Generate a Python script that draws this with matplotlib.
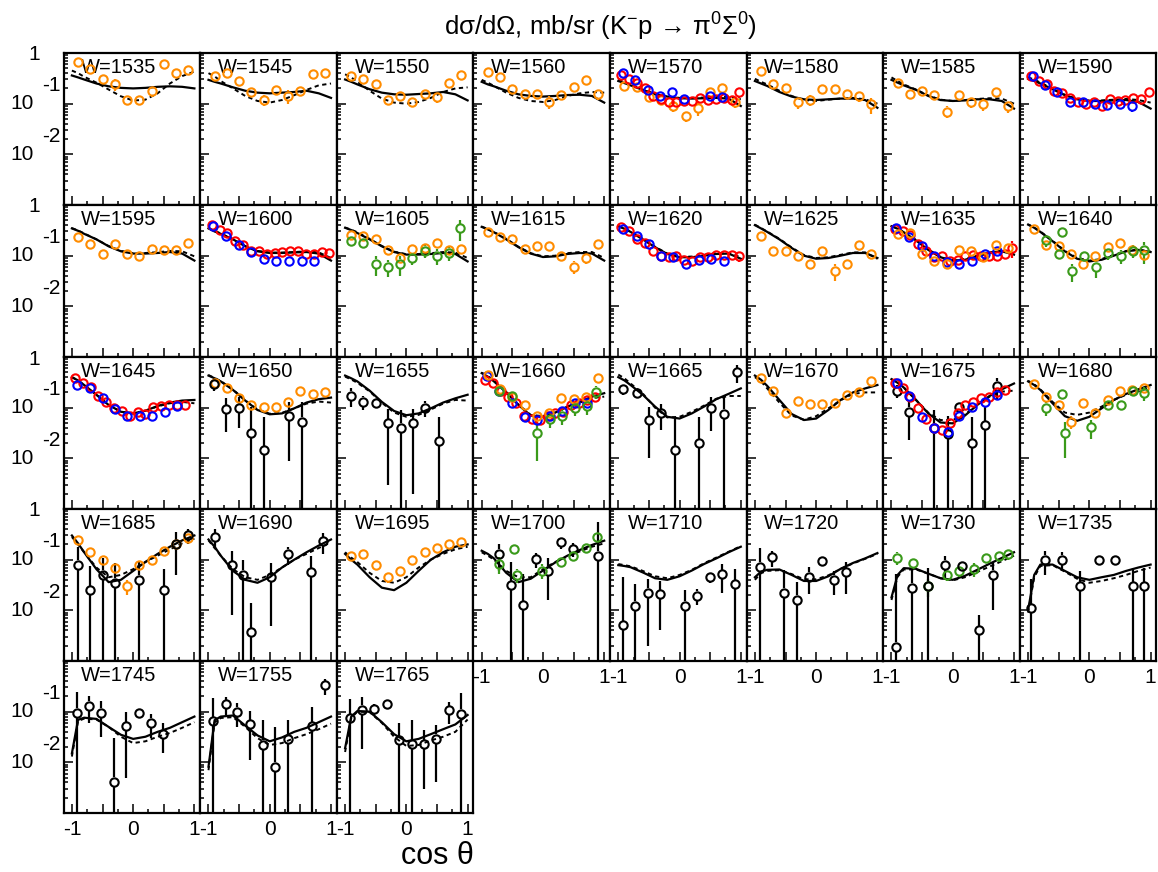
import numpy as np
import matplotlib
matplotlib.use("Agg")
import matplotlib.pyplot as plt
from matplotlib.ticker import FixedLocator, NullFormatter, LogLocator

plt.rcParams['font.family'] = ['Liberation Sans', 'DejaVu Sans']
plt.rcParams['mathtext.fontset'] = 'custom'
plt.rcParams['mathtext.rm'] = 'Liberation Sans'
plt.rcParams['mathtext.default'] = 'regular'

# curve grid (cos theta) and common data grids
XC = [-1.0, -0.9, -0.8, -0.6, -0.4, -0.2, 0.0, 0.2, 0.4, 0.6, 0.8, 1.0]
X10 = [-0.9, -0.7, -0.5, -0.3, -0.1, 0.1, 0.3, 0.5, 0.7, 0.9]
XR = [-0.95, -0.82, -0.69, -0.57, -0.44, -0.31, -0.18, -0.05,
      0.08, 0.20, 0.33, 0.46, 0.59, 0.72, 0.85, 0.97]

COLORS = {'o': '#ff8c00', 'r': '#ff0000', 'b': '#0000ff', 'g': '#3a9a1a', 'k': 'black'}

# ---- row 1 ----
c1535 = [0.36, 0.33, 0.30, 0.25, 0.22, 0.205, 0.20, 0.205, 0.215, 0.22, 0.215, 0.20]
d1535 = [0.45, 0.40, 0.34, 0.26, 0.19, 0.14, 0.115, 0.12, 0.16, 0.25, 0.35, 0.43]
p1535 = [('o', X10, [0.65, 0.48, 0.31, 0.24, 0.118, 0.118, 0.18, 0.60, 0.40, 0.46],
          [0.07, 0.10, 0.06, 0.06, 0.018, 0.018, 0.045, 0.04, 0.08, 0.07])]

c1545 = [0.295, 0.27, 0.25, 0.21, 0.18, 0.165, 0.16, 0.165, 0.17, 0.18, 0.16, 0.13]
d1545 = [0.40, 0.345, 0.28, 0.20, 0.142, 0.113, 0.105, 0.118, 0.147, 0.187, 0.23, 0.25]
p1545 = [('o', X10, [0.355, 0.40, 0.28, 0.17, 0.118, 0.187, 0.142, 0.18, 0.38, 0.41],
          [0.03, 0.04, 0.04, 0.035, 0.03, 0.03, 0.045, 0.03, 0.04, 0.04])]

c1550 = [0.30, 0.27, 0.24, 0.193, 0.165, 0.153, 0.15, 0.155, 0.16, 0.17, 0.153, 0.116]
d1550 = [0.38, 0.33, 0.27, 0.18, 0.126, 0.105, 0.10, 0.108, 0.13, 0.17, 0.20, 0.21]
p1550 = [('o', X10, [0.355, 0.31, 0.24, 0.118, 0.142, 0.108, 0.153, 0.138, 0.26, 0.37],
          [0.03, 0.03, 0.025, 0.02, 0.03, 0.02, 0.03, 0.035, 0.025, 0.03])]

c1560 = [0.27, 0.24, 0.22, 0.18, 0.153, 0.142, 0.138, 0.142, 0.148, 0.15, 0.142, 0.105]
d1560 = [0.295, 0.26, 0.224, 0.165, 0.13, 0.113, 0.108, 0.118, 0.142, 0.16, 0.17, 0.165]
p1560 = [('o', X10, [0.43, 0.33, 0.193, 0.153, 0.153, 0.109, 0.15, 0.21, 0.29, 0.153],
          [0.03, 0.03, 0.03, 0.025, 0.03, 0.03, 0.03, 0.03, 0.03, 0.035])]

c1570 = [0.28, 0.255, 0.23, 0.187, 0.153, 0.138, 0.128, 0.126, 0.128, 0.13, 0.126, 0.09]
d1570 = [0.30, 0.27, 0.24, 0.19, 0.155, 0.14, 0.13, 0.13, 0.132, 0.136, 0.138, 0.122]
p1570 = [('o', X10, [0.223, 0.216, 0.134, 0.118, 0.09, 0.058, 0.081, 0.168, 0.206, 0.109],
          [0.03, 0.03, 0.025, 0.02, 0.02, 0.015, 0.025, 0.03, 0.03, 0.025]),
         ('r', XR, [0.36, 0.30, 0.26, 0.20, 0.14, 0.125, 0.11, 0.11, 0.115, 0.115, 0.13, 0.118,
                    0.125, 0.13, 0.12, 0.17],
          [0.03, 0.02, 0.02, 0.015, 0.01, 0.01, 0.01, 0.01, 0.01, 0.01, 0.01, 0.01, 0.01,
           0.015, 0.015, 0.04]),
         ('b', [-0.93, -0.73, -0.52, -0.32, -0.12, 0.08, 0.49, 0.69],
          [0.40, 0.29, 0.19, 0.142, 0.168, 0.122, 0.142, 0.137],
          [0.03, 0.02, 0.015, 0.01, 0.012, 0.01, 0.012, 0.02])]

c1580 = [0.28, 0.25, 0.224, 0.17, 0.138, 0.122, 0.118, 0.122, 0.126, 0.126, 0.118, 0.083]
d1580 = [0.31, 0.27, 0.24, 0.18, 0.142, 0.118, 0.113, 0.12, 0.126, 0.13, 0.122, 0.10]
p1580 = [('o', X10, [0.45, 0.24, 0.20, 0.108, 0.118, 0.193, 0.193, 0.153, 0.142, 0.097],
          [0.03, 0.04, 0.035, 0.03, 0.03, 0.035, 0.035, 0.03, 0.035, 0.035])]

c1585 = [0.295, 0.26, 0.23, 0.187, 0.142, 0.118, 0.113, 0.116, 0.122, 0.122, 0.113, 0.08]
d1585 = [0.33, 0.28, 0.24, 0.19, 0.145, 0.12, 0.113, 0.118, 0.124, 0.128, 0.126, 0.10]
p1585 = [('o', X10, [0.26, 0.153, 0.18, 0.147, 0.07, 0.147, 0.108, 0.097, 0.17, 0.09],
          [0.02, 0.02, 0.025, 0.025, 0.018, 0.025, 0.025, 0.025, 0.03, 0.025])]

c1590 = [0.31, 0.28, 0.25, 0.193, 0.147, 0.122, 0.113, 0.113, 0.116, 0.118, 0.108, 0.08]
d1590 = [0.33, 0.30, 0.26, 0.20, 0.15, 0.124, 0.115, 0.116, 0.12, 0.124, 0.118, 0.105]
p1590 = [('r', XR, [0.35, 0.284, 0.245, 0.18, 0.16, 0.128, 0.106, 0.097, 0.11, 0.091, 0.122,
                    0.115, 0.118, 0.128, 0.124, 0.172],
          [0.02, 0.015, 0.015, 0.01, 0.01, 0.008, 0.008, 0.008, 0.008, 0.008, 0.008, 0.008,
           0.008, 0.01, 0.01, 0.03]),
         ('b', [-0.92, -0.72, -0.52, -0.32, -0.11, 0.09, 0.29, 0.50, 0.70],
          [0.35, 0.235, 0.172, 0.11, 0.106, 0.097, 0.094, 0.097, 0.09],
          [0.02, 0.015, 0.012, 0.008, 0.008, 0.008, 0.008, 0.008, 0.02])]

# ---- row 2 ----
c1595 = [0.345, 0.31, 0.27, 0.21, 0.153, 0.122, 0.11, 0.11, 0.113, 0.118, 0.11, 0.08]
d1595 = [0.35, 0.315, 0.275, 0.21, 0.155, 0.124, 0.112, 0.113, 0.117, 0.124, 0.122, 0.097]
p1595 = [('o', X10, [0.23, 0.17, 0.108, 0.17, 0.11, 0.097, 0.138, 0.128, 0.128, 0.18],
          [0.025, 0.025, 0.02, 0.025, 0.02, 0.02, 0.02, 0.02, 0.025, 0.03])]

c1600 = [0.345, 0.30, 0.27, 0.21, 0.153, 0.122, 0.113, 0.113, 0.116, 0.118, 0.11, 0.08]
d1600 = [0.35, 0.31, 0.275, 0.21, 0.155, 0.124, 0.115, 0.115, 0.118, 0.122, 0.116, 0.09]
p1600 = [('r', XR, [0.40, 0.32, 0.28, 0.193, 0.165, 0.126, 0.122, 0.11, 0.113, 0.118, 0.122,
                    0.126, 0.11, 0.11, 0.118, 0.113],
          [0.02, 0.015, 0.015, 0.01, 0.01, 0.008, 0.008, 0.008, 0.008, 0.008, 0.008, 0.008,
           0.008, 0.01, 0.01, 0.02]),
         ('b', [-0.92, -0.71, -0.50, -0.30, -0.10, 0.10, 0.31, 0.52, 0.72],
          [0.38, 0.25, 0.165, 0.118, 0.087, 0.077, 0.077, 0.08, 0.077],
          [0.02, 0.015, 0.012, 0.01, 0.008, 0.008, 0.008, 0.008, 0.012])]

c1605 = [0.355, 0.32, 0.28, 0.21, 0.153, 0.118, 0.105, 0.105, 0.108, 0.113, 0.108, 0.077]
d1605 = [0.36, 0.325, 0.29, 0.215, 0.155, 0.12, 0.107, 0.108, 0.112, 0.118, 0.115, 0.09]
p1605 = [('o', X10, [0.26, 0.25, 0.215, 0.13, 0.09, 0.138, 0.142, 0.18, 0.13, 0.138],
          [0.025, 0.025, 0.025, 0.02, 0.015, 0.02, 0.02, 0.025, 0.02, 0.025]),
         ('g', [-0.9, -0.7, -0.5, -0.3, -0.1, 0.1, 0.3, 0.5, 0.7, 0.87],
          [0.193, 0.18, 0.07, 0.06, 0.07, 0.09, 0.126, 0.10, 0.113, 0.345],
          [0.04, 0.035, 0.03, 0.022, 0.03, 0.025, 0.035, 0.035, 0.035, 0.15])]

c1615 = [0.37, 0.33, 0.29, 0.21, 0.147, 0.11, 0.094, 0.097, 0.108, 0.113, 0.11, 0.08]
d1615 = [0.375, 0.335, 0.295, 0.215, 0.15, 0.112, 0.097, 0.10, 0.112, 0.118, 0.118, 0.09]
p1615 = [('o', X10, [0.295, 0.23, 0.215, 0.138, 0.153, 0.153, 0.097, 0.061, 0.09, 0.17],
          [0.02, 0.02, 0.02, 0.02, 0.02, 0.02, 0.015, 0.018, 0.02, 0.02])]

c1620 = [0.38, 0.34, 0.295, 0.21, 0.147, 0.108, 0.093, 0.093, 0.10, 0.108, 0.11, 0.087]
d1620 = [0.385, 0.345, 0.30, 0.215, 0.15, 0.11, 0.095, 0.096, 0.104, 0.112, 0.114, 0.093]
p1620 = [('r', XR, [0.365, 0.31, 0.217, 0.18, 0.122, 0.10, 0.093, 0.10, 0.083, 0.08, 0.093,
                    0.094, 0.105, 0.105, 0.105, 0.10],
          [0.02, 0.015, 0.012, 0.01, 0.008, 0.007, 0.007, 0.007, 0.007, 0.007, 0.007, 0.007,
           0.007, 0.008, 0.008, 0.025]),
         ('b', [-0.92, -0.70, -0.50, -0.30, -0.10, 0.11, 0.31, 0.52, 0.72],
          [0.34, 0.24, 0.17, 0.097, 0.093, 0.07, 0.083, 0.087, 0.08],
          [0.02, 0.015, 0.012, 0.008, 0.008, 0.007, 0.007, 0.007, 0.008])]

c1625 = [0.40, 0.345, 0.295, 0.21, 0.142, 0.10, 0.087, 0.09, 0.10, 0.113, 0.113, 0.09]
d1625 = [0.41, 0.35, 0.30, 0.215, 0.145, 0.103, 0.09, 0.093, 0.104, 0.116, 0.116, 0.087]
p1625 = [('o', X10, [0.25, 0.122, 0.126, 0.10, 0.07, 0.122, 0.05, 0.07, 0.16, 0.11],
          [0.03, 0.015, 0.015, 0.012, 0.015, 0.015, 0.018, 0.015, 0.02, 0.012])]

c1635 = [0.38, 0.34, 0.29, 0.20, 0.13, 0.093, 0.08, 0.083, 0.097, 0.113, 0.122, 0.105]
d1635 = [0.385, 0.345, 0.295, 0.205, 0.133, 0.095, 0.082, 0.086, 0.10, 0.116, 0.125, 0.11]
p1635 = [('r', XR, [0.33, 0.30, 0.26, 0.17, 0.122, 0.093, 0.097, 0.077, 0.083, 0.097, 0.105,
                    0.097, 0.097, 0.097, 0.108, 0.142],
          [0.02, 0.015, 0.015, 0.01, 0.008, 0.007, 0.007, 0.007, 0.007, 0.007, 0.007, 0.007,
           0.007, 0.008, 0.01, 0.05]),
         ('b', [-0.92, -0.71, -0.50, -0.30, -0.09, 0.11, 0.32, 0.52, 0.72],
          [0.355, 0.23, 0.153, 0.097, 0.075, 0.07, 0.077, 0.108, 0.122],
          [0.02, 0.015, 0.012, 0.008, 0.007, 0.007, 0.007, 0.008, 0.01]),
         ('o', X10, [0.27, 0.28, 0.108, 0.077, 0.07, 0.13, 0.122, 0.093, 0.165, 0.142],
          [0.02, 0.03, 0.02, 0.015, 0.015, 0.02, 0.02, 0.015, 0.02, 0.025])]

c1640 = [0.41, 0.355, 0.295, 0.193, 0.122, 0.087, 0.077, 0.083, 0.10, 0.122, 0.13, 0.118]
d1640 = [0.415, 0.36, 0.30, 0.197, 0.125, 0.09, 0.08, 0.086, 0.103, 0.124, 0.132, 0.12]
p1640 = [('o', X10, [0.33, 0.16, 0.153, 0.108, 0.07, 0.10, 0.147, 0.18, 0.13, 0.105],
          [0.025, 0.02, 0.02, 0.015, 0.015, 0.015, 0.02, 0.02, 0.02, 0.025]),
         ('g', [-0.71, -0.50, -0.44, -0.29, -0.09, 0.11, 0.31, 0.52, 0.72, 0.90],
          [0.20, 0.11, 0.295, 0.05, 0.10, 0.061, 0.113, 0.10, 0.126, 0.13],
          [0.05, 0.025, 0.05, 0.02, 0.02, 0.025, 0.03, 0.03, 0.035, 0.06])]

# ---- row 3 ----
c1645 = [0.40, 0.345, 0.28, 0.18, 0.113, 0.083, 0.077, 0.087, 0.108, 0.126, 0.138, 0.142]
d1645 = [0.40, 0.345, 0.28, 0.18, 0.113, 0.083, 0.077, 0.087, 0.106, 0.122, 0.13, 0.122]
p1645 = [('r', XR[:15], [0.38, 0.30, 0.26, 0.17, 0.13, 0.097, 0.087, 0.07, 0.083, 0.074, 0.105,
                         0.108, 0.113, 0.113, 0.113],
          [0.02, 0.015, 0.015, 0.01, 0.008, 0.007, 0.007, 0.006, 0.006, 0.006, 0.007, 0.007,
           0.007, 0.008, 0.008]),
         ('b', [-0.92, -0.70, -0.50, -0.30, -0.10, 0.11, 0.31, 0.52, 0.72],
          [0.28, 0.24, 0.153, 0.093, 0.07, 0.068, 0.069, 0.083, 0.108],
          [0.02, 0.015, 0.01, 0.007, 0.006, 0.006, 0.006, 0.007, 0.008])]

c1650 = [0.43, 0.38, 0.33, 0.224, 0.138, 0.09, 0.074, 0.077, 0.097, 0.126, 0.147, 0.158]
d1650 = [0.44, 0.385, 0.335, 0.228, 0.14, 0.092, 0.076, 0.079, 0.097, 0.12, 0.132, 0.126]
p1650 = [('o', X10, [0.31, 0.25, 0.153, 0.113, 0.105, 0.105, 0.13, 0.215, 0.187, 0.20],
          [0.03, 0.025, 0.02, 0.02, 0.02, 0.02, 0.02, 0.025, 0.025, 0.025]),
         ('k', [-0.91, -0.71, -0.50, -0.30, -0.10, 0.31, 0.52],
          [0.295, 0.093, 0.10, 0.031, 0.0145, 0.069, 0.053],
          [0.08, 0.06, 0.06, 0.074, 0.05, 0.06, 0.077])]

c1655 = [0.43, 0.38, 0.33, 0.217, 0.13, 0.086, 0.071, 0.077, 0.097, 0.126, 0.153, 0.18]
d1655 = [0.41, 0.36, 0.31, 0.21, 0.125, 0.08, 0.066, 0.072, 0.092, 0.12, 0.142, 0.138]
p1655 = [('k', [-0.90, -0.71, -0.50, -0.30, -0.09, 0.11, 0.31, 0.53],
          [0.173, 0.13, 0.122, 0.049, 0.04, 0.049, 0.10, 0.0216],
          [0.07, 0.04, 0.02, 0.046, 0.05, 0.047, 0.035, 0.045])]

c1660 = [0.48, 0.41, 0.33, 0.20, 0.113, 0.07, 0.066, 0.08, 0.105, 0.13, 0.165, 0.193]
d1660 = [0.49, 0.42, 0.34, 0.205, 0.115, 0.072, 0.068, 0.08, 0.103, 0.126, 0.155, 0.165]
p1660 = [('r', XR[:15], [0.355, 0.31, 0.217, 0.165, 0.122, 0.07, 0.061, 0.057, 0.07, 0.077,
                         0.083, 0.113, 0.122, 0.142, 0.165],
          [0.02, 0.015, 0.012, 0.01, 0.008, 0.006, 0.006, 0.006, 0.006, 0.006, 0.006, 0.008,
           0.008, 0.01, 0.01]),
         ('b', [-0.91, -0.71, -0.50, -0.29, -0.09, 0.11, 0.31, 0.52, 0.72],
          [0.43, 0.21, 0.126, 0.066, 0.057, 0.07, 0.087, 0.122, 0.122],
          [0.03, 0.015, 0.01, 0.006, 0.006, 0.006, 0.008, 0.01, 0.015]),
         ('o', X10, [0.45, 0.23, 0.165, 0.113, 0.07, 0.08, 0.153, 0.147, 0.165, 0.38],
          [0.03, 0.025, 0.02, 0.02, 0.012, 0.015, 0.02, 0.02, 0.02, 0.04]),
         ('g', [-0.71, -0.50, -0.09, 0.11, 0.31, 0.52, 0.72, 0.87],
          [0.217, 0.17, 0.031, 0.061, 0.07, 0.097, 0.108, 0.207],
          [0.03, 0.03, 0.022, 0.022, 0.025, 0.03, 0.035, 0.06])]

c1665 = [0.40, 0.345, 0.28, 0.18, 0.105, 0.066, 0.061, 0.077, 0.105, 0.147, 0.187, 0.24]
d1665 = [0.45, 0.38, 0.30, 0.19, 0.10, 0.064, 0.066, 0.083, 0.11, 0.15, 0.17, 0.17]
p1665 = [('k', [-0.92, -0.70, -0.50, -0.30, -0.08, 0.32, 0.52, 0.72, 0.94],
          [0.235, 0.193, 0.057, 0.077, 0.0145, 0.02, 0.10, 0.075, 0.50],
          [0.06, 0.04, 0.047, 0.04, 0.05, 0.045, 0.065, 0.09, 0.20])]

c1670 = [0.43, 0.355, 0.27, 0.142, 0.075, 0.057, 0.061, 0.09, 0.142, 0.20, 0.24, 0.28]
d1670 = [0.40, 0.33, 0.24, 0.126, 0.07, 0.058, 0.068, 0.097, 0.14, 0.187, 0.20, 0.20]
p1670 = [('o', X10, [0.38, 0.217, 0.08, 0.138, 0.118, 0.118, 0.122, 0.18, 0.207, 0.33],
          [0.03, 0.025, 0.015, 0.025, 0.02, 0.02, 0.02, 0.02, 0.02, 0.03])]

c1675 = [0.365, 0.31, 0.25, 0.142, 0.077, 0.051, 0.049, 0.07, 0.113, 0.17, 0.23, 0.30]
d1675 = [0.365, 0.31, 0.25, 0.142, 0.08, 0.057, 0.057, 0.075, 0.113, 0.165, 0.207, 0.217]
p1675 = [('k', [-0.91, -0.71, -0.30, -0.08, 0.11, 0.32, 0.53, 0.72],
          [0.217, 0.083, 0.04, 0.03, 0.105, 0.02, 0.045, 0.27],
          [0.06, 0.06, 0.05, 0.04, 0.02, 0.045, 0.06, 0.12]),
         ('r', XR[:15], [0.31, 0.24, 0.165, 0.10, 0.059, 0.039, 0.037, 0.049, 0.077, 0.113,
                         0.13, 0.153, 0.165, 0.20, 0.224],
          [0.02, 0.015, 0.01, 0.008, 0.005, 0.004, 0.004, 0.004, 0.006, 0.008, 0.008, 0.01,
           0.01, 0.012, 0.012]),
         ('b', [-0.91, -0.71, -0.50, -0.30, -0.08, 0.11, 0.32, 0.52, 0.72],
          [0.30, 0.17, 0.066, 0.039, 0.033, 0.07, 0.105, 0.13, 0.18],
          [0.02, 0.012, 0.006, 0.004, 0.004, 0.006, 0.008, 0.01, 0.012])]

c1680 = [0.33, 0.28, 0.224, 0.122, 0.068, 0.055, 0.066, 0.097, 0.142, 0.187, 0.23, 0.28]
d1680 = [0.34, 0.29, 0.23, 0.13, 0.08, 0.072, 0.08, 0.105, 0.142, 0.18, 0.21, 0.25]
p1680 = [('o', X10, [0.295, 0.165, 0.113, 0.053, 0.122, 0.08, 0.142, 0.217, 0.224, 0.25],
          [0.025, 0.025, 0.02, 0.015, 0.02, 0.015, 0.02, 0.025, 0.025, 0.025]),
         ('g', [-0.71, -0.44, -0.40, 0.02, 0.31, 0.52, 0.72, 0.90],
          [0.10, 0.187, 0.031, 0.041, 0.113, 0.113, 0.217, 0.193],
          [0.03, 0.04, 0.021, 0.017, 0.025, 0.025, 0.04, 0.06])]

# ---- row 4 ----
c1685 = [0.30, 0.21, 0.14, 0.065, 0.036, 0.04, 0.06, 0.09, 0.13, 0.18, 0.24, 0.30]
d1685 = [0.28, 0.20, 0.14, 0.07, 0.045, 0.05, 0.065, 0.09, 0.12, 0.16, 0.21, 0.26]
p1685 = [('o', X10, [0.24, 0.14, 0.10, 0.07, 0.03, 0.08, 0.10, 0.15, 0.20, 0.27],
          [0.02, 0.02, 0.015, 0.012, 0.01, 0.015, 0.015, 0.02, 0.02, 0.03]),
         ('k', [-0.9, -0.7, -0.5, -0.3, 0.1, 0.5, 0.7, 0.9],
          [0.08, 0.025, 0.05, 0.035, 0.04, 0.025, 0.2, 0.3],
          [0.1, 0.05, 0.06, 0.05, 0.05, 0.04, 0.15, 0.1])]

c1690 = [0.25, 0.18, 0.12, 0.06, 0.04, 0.035, 0.045, 0.07, 0.10, 0.14, 0.19, 0.25]
d1690 = [0.24, 0.17, 0.12, 0.065, 0.045, 0.04, 0.05, 0.07, 0.10, 0.13, 0.17, 0.22]
p1690 = [('k', [-0.9, -0.62, -0.43, -0.3, 0.02, 0.3, 0.67, 0.87],
          [0.28, 0.078, 0.05, 0.0037, 0.045, 0.13, 0.057, 0.23],
          [0.12, 0.07, 0.05, 0.01, 0.04, 0.05, 0.06, 0.1])]

c1695 = [0.13, 0.10, 0.08, 0.045, 0.028, 0.025, 0.035, 0.06, 0.10, 0.14, 0.18, 0.20]
d1695 = [0.14, 0.11, 0.09, 0.055, 0.038, 0.035, 0.045, 0.07, 0.10, 0.13, 0.16, 0.18]
p1695 = [('o', X10, [0.12, 0.13, 0.08, 0.045, 0.06, 0.10, 0.14, 0.17, 0.20, 0.22],
          [0.015, 0.015, 0.012, 0.01, 0.01, 0.015, 0.015, 0.02, 0.02, 0.02])]

c1700 = [0.15, 0.13, 0.106, 0.055, 0.036, 0.042, 0.061, 0.088, 0.12, 0.155, 0.195, 0.237]
d1700 = [0.14, 0.12, 0.10, 0.06, 0.045, 0.045, 0.065, 0.09, 0.115, 0.145, 0.18, 0.21]
p1700 = [('k', [-0.72, -0.52, -0.32, -0.11, 0.09, 0.30, 0.49, 0.90],
          [0.13, 0.031, 0.0127, 0.103, 0.061, 0.226, 0.162, 0.12],
          [0.07, 0.06, 0.04, 0.035, 0.045, 0.06, 0.05, 0.44]),
         ('g', [-0.72, -0.47, -0.42, -0.01, 0.30, 0.49, 0.70, 0.88],
          [0.082, 0.162, 0.05, 0.061, 0.091, 0.12, 0.167, 0.276],
          [0.03, 0.03, 0.015, 0.02, 0.02, 0.02, 0.025, 0.05])]

c1710 = [0.078, 0.075, 0.071, 0.056, 0.043, 0.04, 0.047, 0.061, 0.082, 0.106, 0.14, 0.18]
d1710 = [0.082, 0.078, 0.074, 0.06, 0.047, 0.043, 0.05, 0.063, 0.085, 0.11, 0.143, 0.185]
p1710 = [('k', [-0.92, -0.72, -0.52, -0.32, 0.09, 0.29, 0.49, 0.70, 0.90],
          [0.0051, 0.0124, 0.022, 0.021, 0.0124, 0.0195, 0.045, 0.052, 0.033],
          [0.04, 0.02, 0.02, 0.017, 0.0124, 0.007, 0.01, 0.03, 0.033])]

c1720 = [0.045, 0.058, 0.063, 0.064, 0.05, 0.038, 0.038, 0.047, 0.066, 0.086, 0.106, 0.135]
d1720 = [0.04, 0.054, 0.06, 0.062, 0.052, 0.041, 0.041, 0.049, 0.066, 0.084, 0.104, 0.13]
p1720 = [('k', [-0.92, -0.72, -0.52, -0.32, -0.11, 0.09, 0.29, 0.49],
          [0.073, 0.111, 0.022, 0.016, 0.046, 0.095, 0.04, 0.056],
          [0.1, 0.04, 0.04, 0.02, 0.025, 0.015, 0.02, 0.035])]

c1730 = [0.018, 0.05, 0.068, 0.066, 0.053, 0.043, 0.04, 0.048, 0.063, 0.083, 0.108, 0.14]
d1730 = [0.016, 0.046, 0.064, 0.064, 0.053, 0.043, 0.039, 0.045, 0.057, 0.073, 0.093, 0.12]
p1730 = [('g', [-0.91, -0.65, -0.40, -0.10, 0.10, 0.35, 0.55, 0.75, 0.90],
          [0.11, 0.085, 0.03, 0.05, 0.06, 0.065, 0.11, 0.12, 0.13],
          [0.03, 0.02, 0.012, 0.012, 0.015, 0.02, 0.02, 0.03, 0.03]),
         ('k', [-0.92, -0.67, -0.40, -0.12, 0.15, 0.43, 0.65],
          [0.0019, 0.028, 0.03, 0.08, 0.075, 0.004, 0.05],
          [0.05, 0.04, 0.04, 0.04, 0.015, 0.004, 0.04])]

c1735 = [0.01, 0.05, 0.08, 0.08, 0.06, 0.045, 0.04, 0.045, 0.05, 0.06, 0.07, 0.08]
d1735 = [0.009, 0.045, 0.075, 0.078, 0.058, 0.042, 0.035, 0.038, 0.043, 0.05, 0.06, 0.07]
p1735 = [('k', [-0.95, -0.72, -0.45, -0.15, 0.15, 0.42, 0.72, 0.90],
          [0.011, 0.1, 0.1, 0.03, 0.1, 0.1, 0.03, 0.03],
          [0.03, 0.05, 0.04, 0.03, 0.02, 0.02, 0.04, 0.04])]

# ---- row 5 ----
c1745 = [0.015, 0.069, 0.076, 0.072, 0.05, 0.035, 0.029, 0.032, 0.04, 0.048, 0.062, 0.08]
d1745 = [0.013, 0.065, 0.073, 0.07, 0.05, 0.032, 0.024, 0.026, 0.032, 0.038, 0.048, 0.062]
p1745 = [('k', [-0.92, -0.72, -0.52, -0.32, -0.12, 0.09, 0.29, 0.49],
          [0.096, 0.13, 0.096, 0.0041, 0.052, 0.096, 0.061, 0.037],
          [0.15, 0.07, 0.064, 0.026, 0.047, 0.02, 0.031, 0.022])]

c1755 = [0.0082, 0.068, 0.08, 0.084, 0.053, 0.034, 0.026, 0.031, 0.04, 0.048, 0.062, 0.08]
d1755 = [0.007, 0.062, 0.075, 0.078, 0.05, 0.03, 0.022, 0.024, 0.03, 0.036, 0.045, 0.058]
p1755 = [('k', [-0.92, -0.72, -0.53, -0.32, -0.11, 0.09, 0.29, 0.69, 0.90],
          [0.064, 0.14, 0.10, 0.056, 0.022, 0.0082, 0.029, 0.051, 0.33],
          [0.12, 0.055, 0.05, 0.045, 0.046, 0.042, 0.039, 0.075, 0.12])]

c1765 = [0.019, 0.08, 0.103, 0.10, 0.062, 0.036, 0.026, 0.029, 0.036, 0.045, 0.056, 0.086]
d1765 = [0.016, 0.075, 0.10, 0.098, 0.06, 0.032, 0.021, 0.022, 0.027, 0.032, 0.04, 0.07]
p1765 = [('k', [-0.92, -0.72, -0.52, -0.32, -0.12, 0.09, 0.29, 0.49, 0.70, 0.90],
          [0.074, 0.108, 0.112, 0.142, 0.027, 0.023, 0.023, 0.029, 0.106, 0.09],
          [0.1, 0.09, 0.03, 0.02, 0.032, 0.045, 0.02, 0.025, 0.05, 0.14])]

PANELS = [
    (1535, c1535, d1535, p1535), (1545, c1545, d1545, p1545), (1550, c1550, d1550, p1550),
    (1560, c1560, d1560, p1560), (1570, c1570, d1570, p1570), (1580, c1580, d1580, p1580),
    (1585, c1585, d1585, p1585), (1590, c1590, d1590, p1590),
    (1595, c1595, d1595, p1595), (1600, c1600, d1600, p1600), (1605, c1605, d1605, p1605),
    (1615, c1615, d1615, p1615), (1620, c1620, d1620, p1620), (1625, c1625, d1625, p1625),
    (1635, c1635, d1635, p1635), (1640, c1640, d1640, p1640),
    (1645, c1645, d1645, p1645), (1650, c1650, d1650, p1650), (1655, c1655, d1655, p1655),
    (1660, c1660, d1660, p1660), (1665, c1665, d1665, p1665), (1670, c1670, d1670, p1670),
    (1675, c1675, d1675, p1675), (1680, c1680, d1680, p1680),
    (1685, c1685, d1685, p1685), (1690, c1690, d1690, p1690), (1695, c1695, d1695, p1695),
    (1700, c1700, d1700, p1700), (1710, c1710, d1710, p1710), (1720, c1720, d1720, p1720),
    (1730, c1730, d1730, p1730), (1735, c1735, d1735, p1735),
    (1745, c1745, d1745, p1745), (1755, c1755, d1755, p1755), (1765, c1765, d1765, p1765),
]

FW, FH = 1158.0, 872.0
X0, Y0, PW, PH = 63.5, 53.0, 136.6, 152.0
GAP = 10 ** (4.5 / 50.67)   # marker radius in decades

fig = plt.figure(figsize=(FW / 100, FH / 100), dpi=100)


def draw_points(ax, key, xs, ys, es):
    col = COLORS[key]
    xs, ys, es = np.asarray(xs), np.asarray(ys), np.asarray(es)
    up = ys + es > ys * GAP
    ax.vlines(xs[up], (ys * GAP)[up], (ys + es)[up], color=col, lw=1.6, zorder=3)
    lo = ys - es < ys / GAP
    ax.vlines(xs[lo], np.maximum(ys - es, 1e-6)[lo], (ys / GAP)[lo], color=col, lw=1.6, zorder=3)
    ax.plot(xs, ys, 'o', ms=6.0, mfc='none', mec=col, mew=1.5, zorder=4)


for i, (w, sol, dsh, pts) in enumerate(PANELS):
    r, c = divmod(i, 8)
    ax = fig.add_axes([(X0 + c * PW) / FW, 1 - (Y0 + (r + 1) * PH) / FH, PW / FW, PH / FH])
    ax.set_yscale('log')
    ax.set_xlim(-1.137, 1.093)
    ax.set_ylim(1e-3, 1)
    for s in ax.spines.values():
        s.set_linewidth(1.6)

    ax.plot(XC, sol, color='black', lw=1.6, zorder=2)
    ax.plot(XC, dsh, color='black', lw=1.4, dashes=(2.2, 1.8), zorder=2)
    for key, xs, ys, es in pts:
        draw_points(ax, key, xs, ys, es)
    ax.text(0.13, 0.905, 'W=%d' % w, transform=ax.transAxes, fontsize=14.5, va='center')

    ax.xaxis.set_major_locator(FixedLocator([-1, -0.5, 0, 0.5, 1]))
    ax.xaxis.set_minor_locator(FixedLocator([-0.75, -0.25, 0.25, 0.75]))
    ax.yaxis.set_major_locator(FixedLocator([1e-3, 1e-2, 1e-1, 1]))
    ax.yaxis.set_minor_locator(LogLocator(base=10, subs=np.arange(2, 10)))
    ax.yaxis.set_major_formatter(NullFormatter())
    ax.yaxis.set_minor_formatter(NullFormatter())
    ax.tick_params(which='both', direction='in', top=False, right=False, width=1.1)
    ax.tick_params(which='major', length=6.5)
    ax.tick_params(which='minor', length=3.2)

    bottom_visible = (r == 4) or (r == 3 and c >= 3)
    if bottom_visible:
        ax.set_xticklabels(['-1', '', '0', '', '1'], fontsize=15)
        ax.tick_params(axis='x', pad=5)
    else:
        ax.set_xticklabels([])

    if c == 0:
        if r < 4:
            ax.annotate('1', xy=(0, 1), xycoords=('axes fraction', 'data'),
                        xytext=(-24, -2), textcoords='offset pixels',
                        ha='right', va='center', fontsize=15)
        for val, sup in [(1e-1, '-1'), (1e-2, '-2')]:
            ax.annotate('10', xy=(0, val), xycoords=('axes fraction', 'data'),
                        xytext=(-30, 0), textcoords='offset pixels',
                        ha='right', va='center', fontsize=15)
            ax.annotate(sup, xy=(0, val), xycoords=('axes fraction', 'data'),
                        xytext=(-21, 18), textcoords='offset pixels',
                        ha='left', va='center', fontsize=15)

fig.text(600 / FW, 1 - 27 / FH, 'dσ/dΩ, mb/sr (K$^{-}$p → π$^{0}$Σ$^{0}$)',
         ha='center', va='center', fontsize=18.5)
fig.text(474 / FW, 1 - 856 / FH, 'cos θ', ha='right', va='center', fontsize=22)

fig.savefig('out.png', dpi=100)
